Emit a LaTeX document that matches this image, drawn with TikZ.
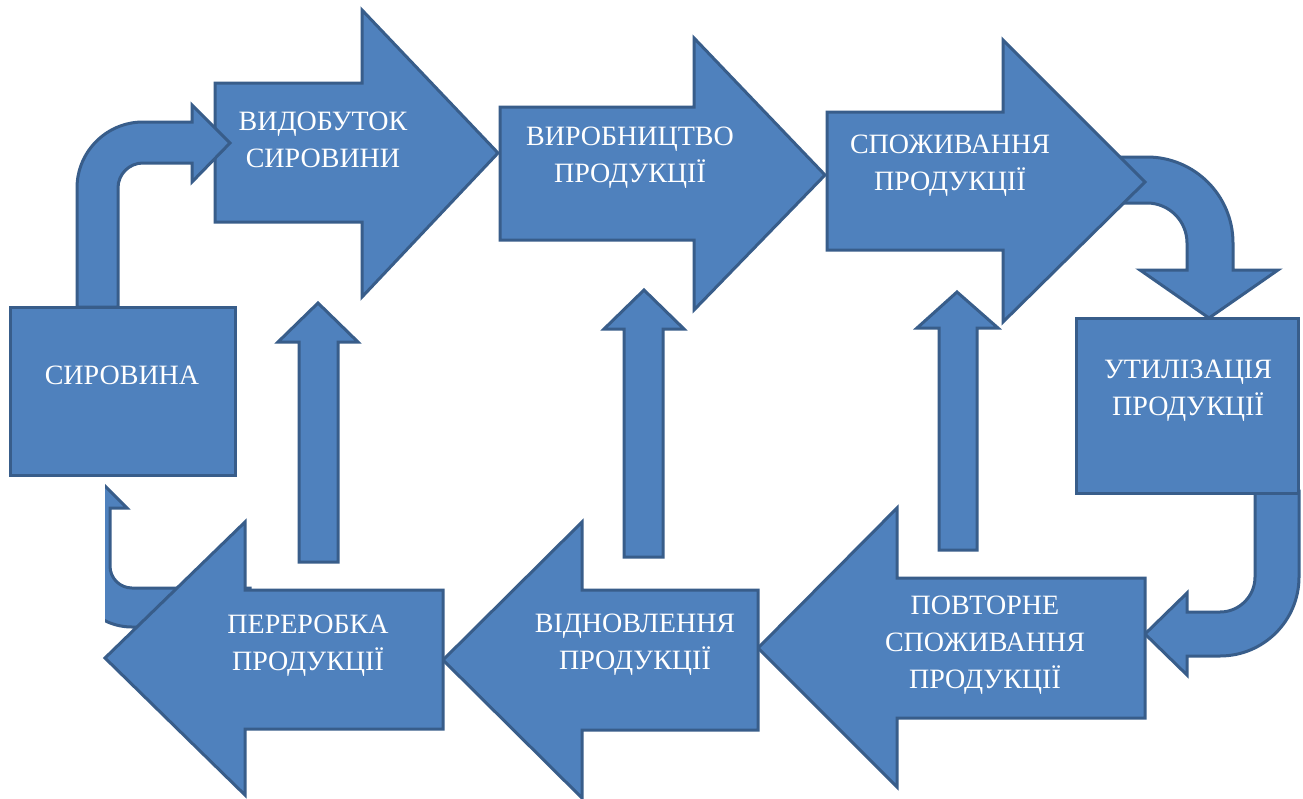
\documentclass[tikz,border=0pt]{standalone}
\usepackage{fontspec}
\setmainfont{Liberation Serif}
\definecolor{blockfill}{RGB}{79,129,189}
\definecolor{blockline}{RGB}{56,93,138}
\tikzset{
  blockshape/.style={fill=blockfill, draw=blockline, line width=3pt, line join=miter},
  lbl/.style={text=white, align=center, font=\fontsize{28}{37}\selectfont, inner sep=0pt}
}
\begin{document}
\begin{tikzpicture}[x=1pt,y=-1pt]
\useasboundingbox (0,0) rectangle (1303,798);
\fill[white] (0,0) rectangle (1303,798);

% --- top row ---
\path[blockshape] (215,83) -- (362,83) -- (362,10) -- (498,153) -- (362,297) -- (362,222) -- (215,222) -- cycle;
\path[blockshape] (500,107) -- (694,107) -- (694,38) -- (825,175) -- (694,310) -- (694,240) -- (500,240) -- cycle;

% curved arrow top right (under arrow 3)
\path[blockshape] (1100,157) -- (1147,157) arc[start angle=90, end angle=0, radius=86pt]
  -- (1233,270) -- (1278,270) -- (1209,318) -- (1140,270) -- (1187,270) -- (1187,243)
  arc[start angle=0, end angle=90, radius=40pt] -- (1100,203) -- cycle;

\path[blockshape] (827,112) -- (1003,112) -- (1003,40) -- (1145,182) -- (1003,322) -- (1003,250) -- (827,250) -- cycle;

% curved arrow top left
\path[blockshape] (77,307) -- (77,188) arc[start angle=180, end angle=90, radius=66pt]
  -- (192,122) -- (192,105) -- (230,143) -- (192,182) -- (192,163) -- (143,163)
  arc[start angle=90, end angle=180, radius=25pt] -- (118,307) -- cycle;

% curved arrow bottom right
\path[blockshape] (1255,491) -- (1255,577) arc[start angle=0, end angle=-90, radius=35pt]
  -- (1187,612) -- (1187,593) -- (1145,634) -- (1187,675) -- (1187,656) -- (1220,656)
  arc[start angle=-90, end angle=0, radius=79pt] -- (1299,491) -- cycle;

% boxes
\path[blockshape] (10,307) rectangle (235,475);
\path[blockshape] (1076,318) rectangle (1298,493);

% curved arrow bottom left (clipped)
\begin{scope}
\clip (105,0) rectangle (1303,798);
\path[blockshape] (250,588) -- (132,588) arc[start angle=-90, end angle=-180, radius=22pt]
  -- (110,508) -- (127,508) -- (90.5,471.5) -- (54,508) -- (71,508) -- (71,566)
  arc[start angle=180, end angle=270, radius=61pt] -- (250,627) -- cycle;
\end{scope}

% --- bottom row ---
\path[blockshape] (1145,578) -- (897,578) -- (897,508) -- (758,648) -- (897,787) -- (897,718) -- (1145,718) -- cycle;
\path[blockshape] (758,590) -- (582,590) -- (582,522) -- (443,660) -- (582,798) -- (582,730) -- (758,730) -- cycle;
\path[blockshape] (443,590) -- (245,590) -- (245,522) -- (105,658) -- (245,795) -- (245,729) -- (443,729) -- cycle;

% --- up arrows ---
\path[blockshape] (299,562) -- (299,342) -- (278,342) -- (318,303) -- (358,342) -- (338,342) -- (338,562) -- cycle;
\path[blockshape] (624,557) -- (624,329) -- (604,329) -- (644,290) -- (684,329) -- (663,329) -- (663,557) -- cycle;
\path[blockshape] (939,550) -- (939,328) -- (917,328) -- (957,292) -- (998,328) -- (977,328) -- (977,550) -- cycle;

% --- labels ---
\node[lbl] (vydobutok) at (323,140) {ВИДОБУТОК\\СИРОВИНИ};
\node[lbl] (vyrobnytstvo) at (630,158) {ВИРОБНИЦТВО\\ПРОДУКЦІЇ};
\node[lbl] (spozhyvannia) at (950,166) {СПОЖИВАННЯ\\ПРОДУКЦІЇ};
\node[lbl] (syrovyna) at (122,375) {СИРОВИНА};
\node[lbl] (utylizatsiia) at (1188,391) {УТИЛІЗАЦІЯ\\ПРОДУКЦІЇ};
\node[lbl] (povtorne) at (985,645) {ПОВТОРНЕ\\СПОЖИВАННЯ\\ПРОДУКЦІЇ};
\node[lbl] (vidnovlennia) at (635,645) {ВІДНОВЛЕННЯ\\ПРОДУКЦІЇ};
\node[lbl] (pererobka) at (308,646) {ПЕРЕРОБКА\\ПРОДУКЦІЇ};
\end{tikzpicture}
\end{document}
